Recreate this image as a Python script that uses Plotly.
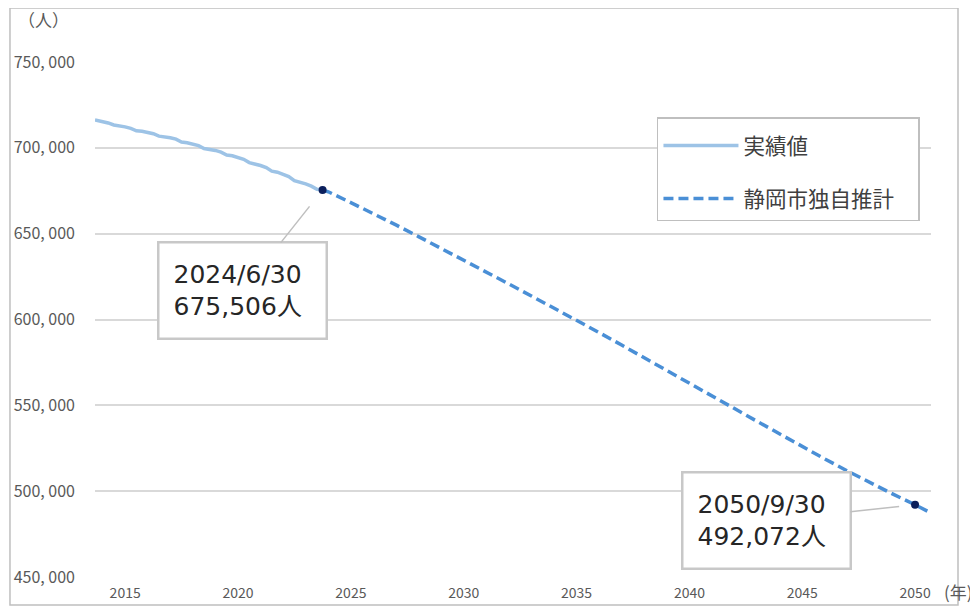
import plotly.graph_objects as go

# 実績値 (住民基本台帳, quarterly readings)
actual_dates = [
    "2014-05-31", "2014-06-30", "2014-09-30", "2014-12-31",
    "2015-03-31", "2015-06-30", "2015-09-30", "2015-12-31",
    "2016-03-31", "2016-06-30", "2016-09-30", "2016-12-31",
    "2017-03-31", "2017-06-30", "2017-09-30", "2017-12-31",
    "2018-03-31", "2018-06-30", "2018-09-30", "2018-12-31",
    "2019-03-31", "2019-06-30", "2019-09-30", "2019-12-31",
    "2020-03-31", "2020-06-30", "2020-09-30", "2020-12-31",
    "2021-03-31", "2021-06-30", "2021-09-30", "2021-12-31",
    "2022-03-31", "2022-06-30", "2022-09-30", "2022-12-31",
    "2023-03-31", "2023-06-30", "2023-09-30", "2023-12-31",
    "2024-03-31", "2024-06-30",
]
actual_values = [
    716300, 716100, 715300, 714500,
    713300, 712900, 712200, 711300,
    709900, 709600, 709000, 708200,
    706800, 706500, 705900, 705100,
    703400, 703000, 702200, 701300,
    699600, 699200, 698500, 697500,
    695800, 695400, 694500, 693300,
    691400, 690800, 689700, 688500,
    686400, 685800, 684600, 683200,
    680900, 680200, 679000, 677700,
    675900, 675506,
]

# 静岡市独自推計
proj_dates = ["2024-06-30"] + [f"{y}-09-30" for y in range(2024, 2052)]
proj_values = [
    675506, 674400, 668100, 661700, 655100, 648300, 641500, 634600,
    627700, 620700, 613700, 606700, 599600, 592400, 585100, 577800,
    570400, 563000, 555500, 548100, 540700, 533300, 526000, 518800,
    511800, 504900, 498400, 492072, 485300,
]

# callouts
point_dates = ["2024-06-30", "2050-09-30"]
point_values = [675506, 492072]
point_labels = ["2024/6/30<br>675,506人", "2050/9/30<br>492,072人"]

year_ticks = list(range(2015, 2051, 5))
y_ticks = [450000, 500000, 550000, 600000, 650000, 700000, 750000]

GRID = "#d9d9d9"
TXT = "#595959"
JP = "Noto Sans CJK JP"

fig = go.Figure()
fig.add_trace(go.Scatter(
    x=actual_dates, y=actual_values, mode="lines", name="実績値\u00a0\u00a0\u00a0\u00a0",
    line=dict(color="#9dc3e6", width=3.5), legendgroup="a",
))
fig.add_trace(go.Scatter(
    x=proj_dates, y=proj_values, mode="lines", name="静岡市独自推計\u00a0\u00a0\u00a0\u00a0",
    line=dict(color="#4a8fd6", width=3.5, dash="10px,5px"), legendgroup="b",
))
fig.add_trace(go.Scatter(
    x=point_dates, y=point_values, mode="markers", showlegend=False,
    marker=dict(color="#0b1f5c", size=8),
))

for d, v, label, ax, ay, so in zip(point_dates, point_values, point_labels,
                                   [-80, -149], [101, 16], [21, 16]):
    fig.add_annotation(
        x=d, y=v, text=label, showarrow=True, arrowhead=0, arrowwidth=1.5,
        arrowcolor="#bfbfbf", ax=ax, ay=ay, standoff=so, align="left",
        width=138, height=66, borderpad=14, bordercolor="#c8c8c8", borderwidth=2.5,
        bgcolor="white", font=dict(family="DejaVu Sans, " + JP, size=25, color="#262626"),
    )

fig.add_annotation(x=-0.0622, y=1.083, xref="paper", yref="paper", text="（人）",
                   showarrow=False, xanchor="center", yanchor="middle",
                   font=dict(family=JP, size=17, color=TXT))
fig.add_annotation(x=1.0132, y=-0.0272, xref="paper", yref="paper", text="(年)",
                   showarrow=False, xanchor="left", yanchor="middle",
                   font=dict(family=JP, size=17, color=TXT))

# chart area border
fig.add_shape(type="rect", xref="paper", yref="paper",
              x0=-0.1017, x1=1.0323, y0=-0.0544, y1=1.1049,
              line=dict(color="#bfbfbf", width=1.5))

fig.update_layout(
    width=970, height=605, autosize=False,
    margin=dict(l=87, r=47, t=54, b=36),
    paper_bgcolor="white", plot_bgcolor="white",
    font=dict(family=JP, color=TXT),
    legend=dict(
        x=0.6722, y=0.8932, xanchor="left", yanchor="top",
        bordercolor="#bfbfbf", borderwidth=1.5, bgcolor="white",
        font=dict(family=JP, size=21.5, color="#404040"),
        title=dict(text="\u00a0", font=dict(size=5)),
        itemwidth=75, tracegroupgap=22,
    ),
    xaxis=dict(
        type="date", range=["2014-05-31", "2051-06-15"],
        tickvals=[f"{y}-10-01" for y in year_ticks],
        ticktext=[str(y) for y in year_ticks],
        showgrid=False, zeroline=False, showline=False, ticks="",
        tickfont=dict(size=14, color=TXT), ticklabelstandoff=6,
        automargin=False,
    ),
    yaxis=dict(
        range=[450000, 750000], tickvals=y_ticks,
        ticktext=[f"{v // 1000}, {v % 1000:03d}" for v in y_ticks],
        showgrid=True, gridcolor=GRID, gridwidth=1.5, zeroline=False,
        showline=False, ticks="", tickfont=dict(size=16, color=TXT),
        ticklabelstandoff=19, automargin=False,
    ),
)

fig.write_html("out.html")
